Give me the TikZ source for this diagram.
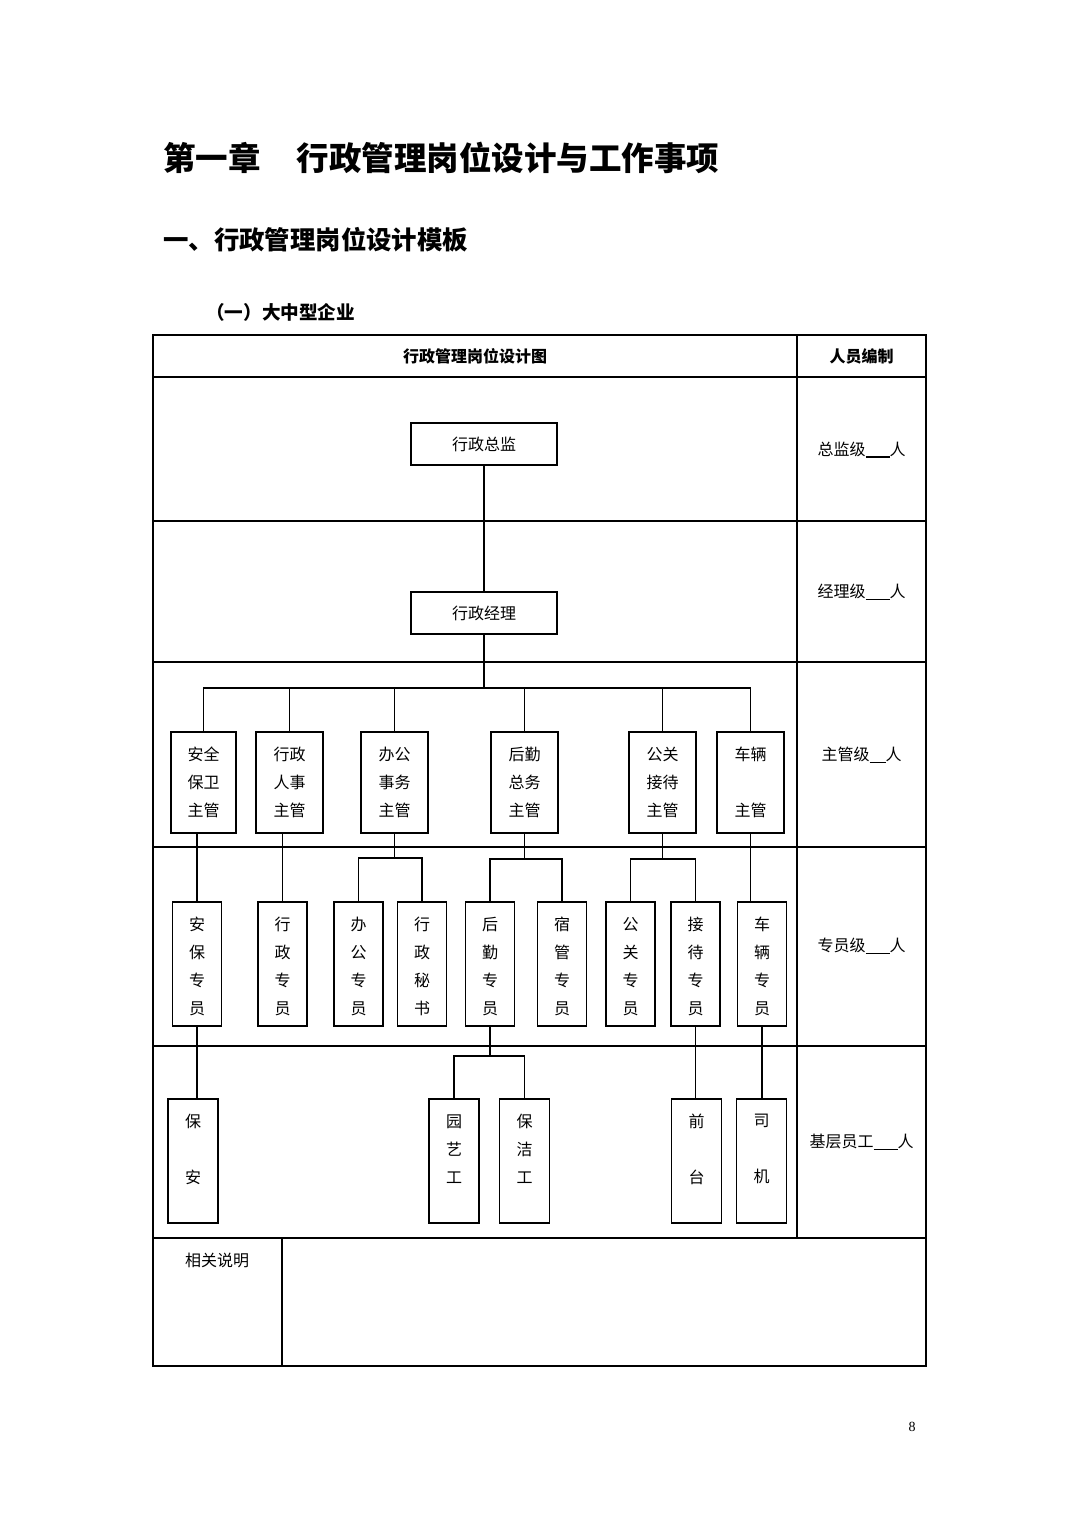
\documentclass[tikz,border=0pt]{standalone}
\usepackage{fontspec}
\setmainfont{Liberation Serif}
\newfontfamily\cjk{Noto Sans CJK SC}
\begin{document}
\begin{tikzpicture}[x=1pt,y=-1pt,
  tl/.style={line width=1.3pt},
  box/.style={draw, line width=1.8pt, inner sep=0pt},
  con/.style={line width=1.5pt},
  vt/.style={anchor=north, align=center, inner sep=0pt, font=\cjk\fontsize{16pt}{28pt}\selectfont, yshift=-16pt},
  ht/.style={inner sep=0pt, font=\cjk\fontsize{16pt}{20pt}\selectfont},
  hb/.style={inner sep=0pt, font=\cjk\bfseries\fontsize{16pt}{20pt}\selectfont},
  supbox/.style={box, minimum width=67pt, minimum height=101pt},
  spbox/.style={box, minimum width=49pt, minimum height=124pt},
  stbox/.style={box, minimum width=50pt, minimum height=124pt},
]
\useasboundingbox (0,0) rectangle (1080,1527);
\fill[white] (0,0) rectangle (1080,1527);

% headings
\node[anchor=west, inner sep=0pt, font=\cjk\bfseries\fontsize{32.5pt}{36pt}\selectfont] (title) at (163,158) {第一章\hspace{36pt}行政管理岗位设计与工作事项};
\node[anchor=west, inner sep=0pt, font=\cjk\bfseries\fontsize{25.4pt}{30pt}\selectfont] (sec) at (163,240) {一、行政管理岗位设计模板};
\node[anchor=west, inner sep=0pt, font=\cjk\bfseries\fontsize{18.6pt}{22pt}\selectfont] (sub) at (206,312) {（一）大中型企业};

% table
\draw[tl] (153,335) rectangle (926,1366);
\draw[tl] (797,335) -- (797,1238);
\foreach \yy in {377,521,662,847,1046,1238} \draw[tl] (153,\yy) -- (926,\yy);
\draw[tl] (282,1238) -- (282,1366);

\node[hb] (h1) at (475,356) {行政管理岗位设计图};
\node[hb] (h2) at (861.5,356) {人员编制};

\node[ht] (r1) at (861.5,450) {总监级\rule[-2pt]{24pt}{1.8pt}人};
\node[ht] (r2) at (861.5,592) {经理级\rule[-2pt]{24pt}{0.9pt}人};
\node[ht] (r3) at (861.5,755) {主管级\rule[-2pt]{16pt}{0.9pt}人};
\node[ht] (r4) at (861.5,946) {专员级\rule[-2pt]{24pt}{0.9pt}人};
\node[ht] (r5) at (861.5,1142) {基层员工\rule[-2pt]{24pt}{0.9pt}人};
\node[ht] (note) at (217,1260) {相关说明};

% top boxes
\node[box, minimum width=146pt, minimum height=42pt, font=\cjk\fontsize{16pt}{20pt}\selectfont] (zj) at (484,444) {行政总监};
\node[box, minimum width=146pt, minimum height=42pt, font=\cjk\fontsize{16pt}{20pt}\selectfont] (jl) at (484,613) {行政经理};

% supervisors
\node[supbox, minimum width=65pt] (s1) at (203.5,782.5) {};
\node[supbox] (s2) at (289.5,782.5) {};
\node[supbox] (s3) at (394.5,782.5) {};
\node[supbox] (s4) at (524.5,782.5) {};
\node[supbox] (s5) at (662.5,782.5) {};
\node[supbox] (s6) at (750.5,782.5) {};
\node[vt] (s1t) at (s1.north) {安全\\保卫\\主管};
\node[vt] (s2t) at (s2.north) {行政\\人事\\主管};
\node[vt] (s3t) at (s3.north) {办公\\事务\\主管};
\node[vt] (s4t) at (s4.north) {后勤\\总务\\主管};
\node[vt] (s5t) at (s5.north) {公关\\接待\\主管};
\node[vt] (s6t) at (s6.north) {车辆\\[28pt]主管};

% specialists
\node[spbox] (z1) at (197,964) {};
\node[spbox] (z2) at (282.5,964) {};
\node[spbox] (z3) at (358.5,964) {};
\node[spbox] (z4) at (422,964) {};
\node[spbox] (z5) at (490,964) {};
\node[spbox] (z6) at (562,964) {};
\node[spbox] (z7) at (630.5,964) {};
\node[spbox] (z8) at (695.5,964) {};
\node[spbox] (z9) at (762,964) {};
\node[vt] (z1t) at (z1.north) {安\\保\\专\\员};
\node[vt] (z2t) at (z2.north) {行\\政\\专\\员};
\node[vt] (z3t) at (z3.north) {办\\公\\专\\员};
\node[vt] (z4t) at (z4.north) {行\\政\\秘\\书};
\node[vt] (z5t) at (z5.north) {后\\勤\\专\\员};
\node[vt] (z6t) at (z6.north) {宿\\管\\专\\员};
\node[vt] (z7t) at (z7.north) {公\\关\\专\\员};
\node[vt] (z8t) at (z8.north) {接\\待\\专\\员};
\node[vt] (z9t) at (z9.north) {车\\辆\\专\\员};

% staff
\node[stbox] (w1) at (193,1161) {};
\node[stbox] (w2) at (454,1161) {};
\node[stbox] (w3) at (524.5,1161) {};
\node[stbox] (w4) at (696.5,1161) {};
\node[stbox] (w5) at (761.5,1161) {};
\node[vt] (w1t) at (w1.north) {保\\[28pt]安};
\node[vt] (w2t) at (w2.north) {园\\艺\\工};
\node[vt] (w3t) at (w3.north) {保\\洁\\工};
\node[vt] (w4t) at (w4.north) {前\\[28pt]台};
\node[vt] (w5t) at (w5.north) {司\\[28pt]机};

% connectors
\draw[con] (zj.south) -- (jl.north);
\coordinate (b0) at (484,688);
\draw[con] (jl.south) -- (b0);
\draw[con] (s1.north) |- (b0);
\draw[con] (s6.north) |- (b0);
\foreach \s in {s2,s3,s4,s5} \draw[con] (\s.north) -- (\s.north |- b0);

\draw[con] (z1.north) -- (z1.north |- s1.south);
\draw[con] (z2.north) -- (z2.north |- s2.south);
\coordinate (b3) at (394.5,858);
\draw[con] (s3.south) -- (b3);
\draw[con] (z3.north) |- (b3) -| (z4.north);
\coordinate (b4) at (524.5,859);
\draw[con] (s4.south) -- (b4);
\draw[con] (z5.north) |- (b4) -| (z6.north);
\coordinate (b5) at (662.5,859);
\draw[con] (s5.south) -- (b5);
\draw[con] (z7.north) |- (b5) -| (z8.north);
\draw[con] (s6.south) -- (s6.south |- z9.north);

\draw[con] (z1.south) -- (z1.south |- w1.north);
\coordinate (b6) at (490,1056);
\draw[con] (z5.south) -- (b6);
\draw[con] (w2.north) |- (b6) -| (w3.north);
\draw[con] (z8.south) -- (z8.south |- w4.north);
\draw[con] (z9.south) -- (z9.south |- w5.north);

% page number
\node[inner sep=0pt, font=\fontsize{14pt}{16pt}\selectfont] (pg) at (912,1427) {8};
\end{tikzpicture}
\end{document}
